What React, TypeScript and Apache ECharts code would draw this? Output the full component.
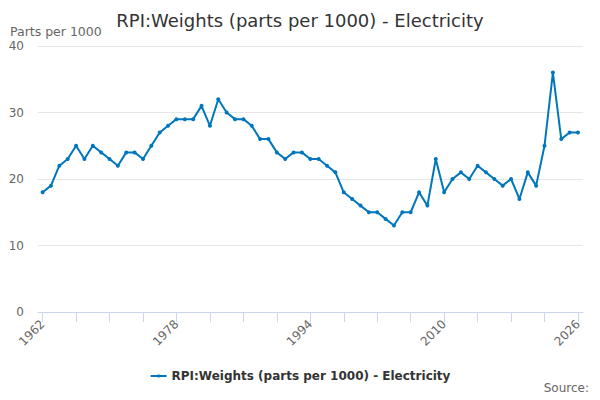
import React, { useEffect, useRef } from "react";
import * as echarts from "echarts";

const years: number[] = [];
for (let y = 1962; y <= 2026; y++) years.push(y);

const values = [
  18, 19, 22, 23, 25, 23, 25, 24, 23, 22,
  24, 24, 23, 25, 27, 28, 29, 29, 29, 31,
  28, 32, 30, 29, 29, 28, 26, 26, 24, 23,
  24, 24, 23, 23, 22, 21, 18, 17, 16, 15,
  15, 14, 13, 15, 15, 18, 16, 23, 18, 20,
  21, 20, 22, 21, 20, 19, 20, 17, 21, 19,
  25, 36, 26, 27, 27,
];

const tickYears = [1962, 1966, 1970, 1974, 1978, 1982, 1986, 1990, 1994, 1998, 2002, 2006, 2010, 2014, 2018, 2022, 2026];
const labelYears = [1962, 1978, 1994, 2010, 2026];

const seriesName = "RPI:Weights (parts per 1000) - Electricity";
const FONT = "DejaVu Sans";

export default function App() {
  const ref = useRef<HTMLDivElement>(null);
  useEffect(() => {
    if (!ref.current) return;
    const chart = echarts.init(ref.current, null, { renderer: "svg" });
    chart.setOption({
      animation: false,
      textStyle: { fontFamily: FONT },
      title: {
        text: "RPI:Weights (parts per 1000) - Electricity",
        left: "center",
        top: 6,
        textStyle: { fontSize: 18, fontWeight: "normal", color: "#333333", fontFamily: FONT },
      },
      graphic: [
        {
          type: "text",
          left: 10,
          top: 25,
          style: { text: "Parts per 1000", fontSize: 12.5, fill: "#666666", fontFamily: FONT },
        },
        {
          type: "text",
          right: 11,
          top: 382,
          style: { text: "Source:", fontSize: 12, fill: "#666666", fontFamily: FONT },
        },
      ],
      legend: {
        left: "center",
        top: 365,
        itemWidth: 16,
        itemHeight: 4,
        textStyle: { fontSize: 12, fontWeight: "bold", color: "#333333", fontFamily: FONT },
        data: [seriesName],
      },
      grid: { left: 38, right: 17, top: 46, bottom: 88, containLabel: false },
      xAxis: {
        type: "value",
        min: 1961.45,
        max: 2026.6,
        splitLine: { show: false },
        axisLine: { show: true, lineStyle: { color: "#ccd6eb", width: 1 } },
        axisTick: {
          show: true,
          length: 10,
          lineStyle: { color: "#ccd6eb" },
          customValues: tickYears,
        },
        axisLabel: {
          rotate: 45,
          color: "#666666",
          fontSize: 12,
          fontFamily: FONT,
          margin: 10,
          customValues: labelYears,
          formatter: (v: number) => String(Math.round(v)),
        },
      },
      yAxis: {
        type: "value",
        min: 0,
        max: 40,
        interval: 10,
        axisLine: { show: false },
        axisTick: { show: false },
        splitLine: { lineStyle: { color: "#e6e6e6", width: 1 } },
        axisLabel: { color: "#666666", fontSize: 12, fontFamily: FONT, margin: 14 },
      },
      series: [
        {
          name: seriesName,
          type: "line",
          data: years.map((y, i) => [y, values[i]]),
          symbol: "circle",
          symbolSize: 4,
          lineStyle: { color: "#0077bd", width: 2 },
          itemStyle: { color: "#0077bd" },
        },
      ],
    });
    return () => chart.dispose();
  }, []);
  return <div ref={ref} style={{ width: 600, height: 400, position: "absolute", left: 0, top: 0 }} />;
}
